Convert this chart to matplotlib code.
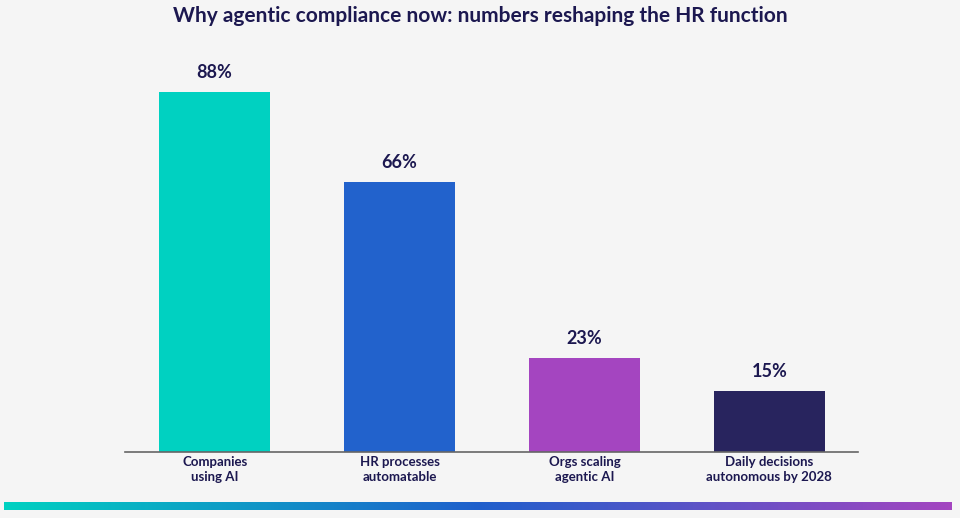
import numpy as np
import matplotlib
matplotlib.use("Agg")
import matplotlib.pyplot as plt
from matplotlib.colors import LinearSegmentedColormap

categories = ["Companies\nusing AI", "HR processes\nautomatable",
              "Orgs scaling\nagentic AI", "Daily decisions\nautonomous by 2028"]
values = [88, 66, 23, 15]
bar_colors = ["#00d1c1", "#2262cc", "#a445c0", "#28245e"]

TITLE = "Why agentic compliance now: numbers reshaping the HR function"
BG = "#f5f5f5"
INK = "#1c1850"

plt.rcParams["font.family"] = ["Lato", "DejaVu Sans"]

fig = plt.figure(figsize=(9.6, 5.18), dpi=100, facecolor=BG)
ax = fig.add_axes([0.1302, 0.1274, 0.7636, 0.757])
ax.set_facecolor(BG)

x = np.arange(len(values))
bars = ax.bar(x, values, width=0.6, color=bar_colors)
for b, v in zip(bars, values):
    ax.text(b.get_x() + b.get_width() / 2, v + 2.6, f"{v}%",
            ha="center", va="bottom", fontsize=13, fontweight="bold", color=INK)

ax.set_xlim(-0.485, 3.48)
ax.set_ylim(0, 95.8)
ax.set_xticks(x)
ax.set_xticklabels(categories, fontsize=9.5, color=INK, fontweight="bold",
                   linespacing=1.25)
ax.tick_params(axis="x", length=0, pad=3)
ax.set_yticks([])
for s in ["top", "right", "left"]:
    ax.spines[s].set_visible(False)
ax.spines["bottom"].set_color("#666666")
ax.spines["bottom"].set_linewidth(1.2)

fig.text(0.5, 1 - 16 / 518, TITLE, ha="center", va="center",
         fontsize=15, fontweight="bold", color=INK)

# gradient strip along the bottom
cmap = LinearSegmentedColormap.from_list("strip", ["#00d1c1", "#1f5fcc", "#a445c0"])
gax = fig.add_axes([4 / 960, (518 - 510) / 518, 948 / 960, 8 / 518])
gax.imshow(np.linspace(0, 1, 256)[None, :], aspect="auto", cmap=cmap)
gax.axis("off")

fig.savefig("out.png", dpi=100, facecolor=BG)
